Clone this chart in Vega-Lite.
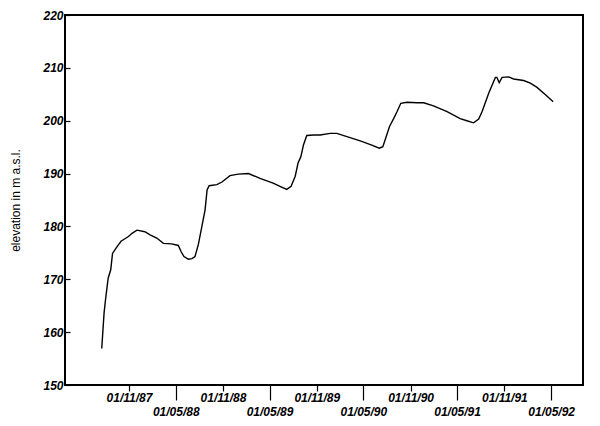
{
  "$schema": "https://vega.github.io/schema/vega-lite/v6.json",
  "width": 518,
  "height": 370,
  "autosize": {"type": "none"},
  "padding": {"left": 65, "top": 15, "right": 17, "bottom": 41},
  "background": "white",
  "config": {
    "view": {"stroke": "black", "strokeWidth": 2},
    "axis": {"domain": false, "grid": false, "labelColor": "black", "tickColor": "black", "titleColor": "black"}
  },
  "data": {
    "values": [
      {"date": "1987-07-18", "elev": 156.9},
      {"date": "1987-07-27", "elev": 163.6},
      {"date": "1987-08-03", "elev": 166.7},
      {"date": "1987-08-12", "elev": 170.2},
      {"date": "1987-08-22", "elev": 171.8},
      {"date": "1987-08-29", "elev": 174.9},
      {"date": "1987-09-13", "elev": 176.0},
      {"date": "1987-10-01", "elev": 177.2},
      {"date": "1987-10-30", "elev": 178.1},
      {"date": "1987-11-13", "elev": 178.7},
      {"date": "1987-12-02", "elev": 179.3},
      {"date": "1988-01-02", "elev": 179.0},
      {"date": "1988-01-22", "elev": 178.4},
      {"date": "1988-02-17", "elev": 177.8},
      {"date": "1988-03-14", "elev": 176.8},
      {"date": "1988-04-15", "elev": 176.7},
      {"date": "1988-05-11", "elev": 176.4},
      {"date": "1988-05-22", "elev": 175.2},
      {"date": "1988-06-02", "elev": 174.3},
      {"date": "1988-06-19", "elev": 173.8},
      {"date": "1988-07-03", "elev": 173.9},
      {"date": "1988-07-15", "elev": 174.3},
      {"date": "1988-07-28", "elev": 176.6},
      {"date": "1988-08-10", "elev": 179.8},
      {"date": "1988-08-23", "elev": 183.1},
      {"date": "1988-08-31", "elev": 186.9},
      {"date": "1988-09-08", "elev": 187.7},
      {"date": "1988-10-08", "elev": 187.9},
      {"date": "1988-10-28", "elev": 188.4},
      {"date": "1988-11-28", "elev": 189.6},
      {"date": "1988-12-30", "elev": 189.9},
      {"date": "1989-02-08", "elev": 190.0},
      {"date": "1989-03-25", "elev": 189.1},
      {"date": "1989-05-15", "elev": 188.2},
      {"date": "1989-06-15", "elev": 187.5},
      {"date": "1989-07-07", "elev": 187.0},
      {"date": "1989-07-24", "elev": 187.6},
      {"date": "1989-08-09", "elev": 189.5},
      {"date": "1989-08-20", "elev": 192.0},
      {"date": "1989-08-31", "elev": 193.2},
      {"date": "1989-09-10", "elev": 195.4},
      {"date": "1989-09-23", "elev": 197.2},
      {"date": "1989-10-19", "elev": 197.3},
      {"date": "1989-11-14", "elev": 197.3},
      {"date": "1989-12-23", "elev": 197.6},
      {"date": "1990-01-18", "elev": 197.6},
      {"date": "1990-02-26", "elev": 197.0},
      {"date": "1990-04-19", "elev": 196.2},
      {"date": "1990-06-03", "elev": 195.4},
      {"date": "1990-07-02", "elev": 194.8},
      {"date": "1990-07-16", "elev": 195.1},
      {"date": "1990-07-27", "elev": 196.7},
      {"date": "1990-08-11", "elev": 198.9},
      {"date": "1990-08-27", "elev": 200.4},
      {"date": "1990-09-09", "elev": 201.7},
      {"date": "1990-09-24", "elev": 203.3},
      {"date": "1990-10-18", "elev": 203.5},
      {"date": "1990-11-26", "elev": 203.4},
      {"date": "1990-12-22", "elev": 203.4},
      {"date": "1991-01-29", "elev": 202.8},
      {"date": "1991-03-23", "elev": 201.7},
      {"date": "1991-05-13", "elev": 200.4},
      {"date": "1991-06-08", "elev": 200.0},
      {"date": "1991-07-04", "elev": 199.6},
      {"date": "1991-07-24", "elev": 200.3},
      {"date": "1991-08-06", "elev": 201.7},
      {"date": "1991-09-01", "elev": 205.2},
      {"date": "1991-09-27", "elev": 208.2},
      {"date": "1991-10-03", "elev": 208.2},
      {"date": "1991-10-12", "elev": 207.2},
      {"date": "1991-10-23", "elev": 208.2},
      {"date": "1991-11-18", "elev": 208.3},
      {"date": "1991-12-07", "elev": 207.9},
      {"date": "1992-01-15", "elev": 207.6},
      {"date": "1992-02-10", "elev": 207.1},
      {"date": "1992-03-07", "elev": 206.3},
      {"date": "1992-04-09", "elev": 204.9},
      {"date": "1992-05-09", "elev": 203.6}
    ]
  },
  "mark": {"type": "line", "color": "black", "strokeWidth": 1.4, "interpolate": "linear"},
  "encoding": {
    "x": {
      "field": "date",
      "type": "temporal",
      "scale": {"type": "utc", "domain": [{"year": 1987, "month": 2, "date": 25, "utc": true}, {"year": 1992, "month": 9, "date": 2, "utc": true}]},
      "axis": {
        "title": null,
        "values": [
          {"year": 1987, "month": 11, "date": 1, "utc": true},
          {"year": 1988, "month": 5, "date": 1, "utc": true},
          {"year": 1988, "month": 11, "date": 1, "utc": true},
          {"year": 1989, "month": 5, "date": 1, "utc": true},
          {"year": 1989, "month": 11, "date": 1, "utc": true},
          {"year": 1990, "month": 5, "date": 1, "utc": true},
          {"year": 1990, "month": 11, "date": 1, "utc": true},
          {"year": 1991, "month": 5, "date": 1, "utc": true},
          {"year": 1991, "month": 11, "date": 1, "utc": true},
          {"year": 1992, "month": 5, "date": 1, "utc": true}
        ],
        "labelExpr": "utcFormat(datum.value, '%d/%m/%y')",
        "labelFont": "Liberation Sans",
        "labelFontSize": 12,
        "labelFontStyle": "italic",
        "labelFontWeight": "bold",
        "labelBaseline": "top",
        "labelOverlap": false,
        "labelFlush": false,
        "tickWidth": 1.2,
        "tickSize": {"condition": {"test": "utcmonth(datum.value) == 4", "value": 15}, "value": 6},
        "labelPadding": {"condition": {"test": "utcmonth(datum.value) == 4", "value": 6}, "value": 1}
      }
    },
    "y": {
      "field": "elev",
      "type": "quantitative",
      "scale": {"domain": [150, 220], "nice": false, "zero": false},
      "axis": {
        "title": "elevation in m a.s.l.",
        "titleFont": "Liberation Sans",
        "titleFontSize": 12,
        "titleFontWeight": "normal",
        "titlePadding": 20,
        "values": [150, 160, 170, 180, 190, 200, 210, 220],
        "labelFont": "Liberation Sans",
        "labelFontSize": 12,
        "labelFontStyle": "italic",
        "labelFontWeight": "bold",
        "tickSize": -5,
        "tickWidth": 1.2,
        "labelPadding": 7
      }
    }
  }
}
